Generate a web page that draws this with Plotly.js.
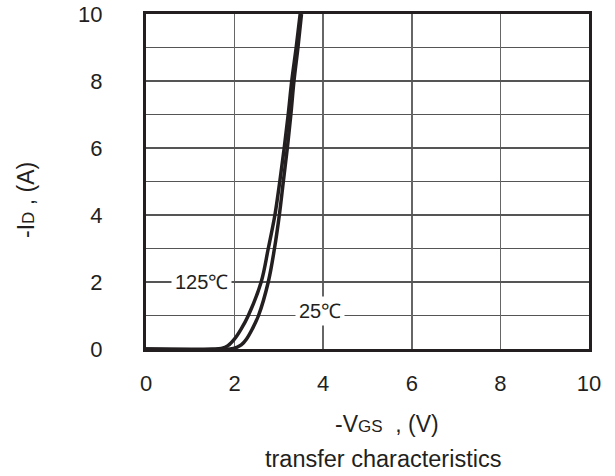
<!DOCTYPE html>
<html>
<head>
<meta charset="utf-8">
<script src="https://cdn.plot.ly/plotly-3.0.1.min.js"></script>
<style>html,body{margin:0;padding:0;background:#fff;}#chart{width:615px;height:476px;}</style>
</head>
<body>
<div id="chart"></div>
<script>
// -VGS (V) and -ID (A)
const vgs125 = [0, 1.5, 1.7, 1.85, 2.0, 2.15, 2.31, 2.6, 2.76, 2.91, 3.02, 3.12, 3.21, 3.29, 3.39, 3.48];
const id125  = [0, 0, 0.02, 0.1, 0.3, 0.6, 1, 2, 3, 4, 5, 6, 7, 8, 9, 10];
const vgs25  = [0, 1.9, 2.05, 2.15, 2.27, 2.4, 2.54, 2.76, 2.90, 3.01, 3.10, 3.19, 3.27, 3.34, 3.43, 3.51];
const id25   = [0, 0, 0.05, 0.12, 0.3, 0.6, 1, 2, 3, 4, 5, 6, 7, 8, 9, 10];
const xTicks = [0, 2, 4, 6, 8, 10];
const yTicks = [0, 2, 4, 6, 8, 10];
const labels = [
  {text: '125℃', x: 1.26, y: 2},
  {text: '25℃', x: 3.93, y: 1}
];

const ink = '#231f20';
const fam = '"Liberation Sans", Arial, sans-serif';
const tickFont = {family: fam, size: 22, color: ink};
const titleFont = {family: fam, size: 23, color: ink};
const labelFont = {family: fam, size: 20, color: ink};

const traces = [
  {x: vgs125, y: id125, mode: 'lines', line: {color: ink, width: 3.5, shape: 'spline', smoothing: 1}, hoverinfo: 'skip'},
  {x: vgs25, y: id25, mode: 'lines', line: {color: ink, width: 3.5, shape: 'spline', smoothing: 1}, hoverinfo: 'skip'}
];

const annotations = labels.map((l, i) => ({
  text: l.text, x: l.x, y: l.y, xref: 'x', yref: 'y', showarrow: false,
  bgcolor: '#ffffff', borderpad: 3, font: labelFont, yshift: i === 1 ? 5 : 0
}));
annotations.push({
  text: '-V<span style="font-size:17px">GS</span>  , (V)', xref: 'paper', yref: 'paper',
  x: (387 - 146) / 443, y: 0, yanchor: 'middle', yshift: -75, showarrow: false, font: titleFont
});
annotations.push({
  text: 'transfer characteristics', xref: 'paper', yref: 'paper',
  x: (383 - 146) / 443, y: 0, yanchor: 'middle', yshift: -110, showarrow: false,
  font: {family: fam, size: 23.5, color: ink}
});
annotations.push({
  text: '-I<span style="font-size:17px">D</span> , (A)', xref: 'paper', yref: 'paper',
  x: 0, xanchor: 'center', xshift: -120, y: (349 - 200) / 335, yanchor: 'middle',
  textangle: -90, showarrow: false, font: titleFont
});

const layout = {
  width: 615, height: 476,
  margin: {l: 146, r: 26, t: 14, b: 127, pad: 0},
  paper_bgcolor: '#ffffff', plot_bgcolor: '#ffffff',
  showlegend: false,
  font: tickFont,
  xaxis: {
    range: [0, 10], tickvals: xTicks, ticktext: xTicks.map(String),
    showgrid: true, gridcolor: '#666', gridwidth: 1.5,
    showline: true, linecolor: ink, linewidth: 3, mirror: true,
    zeroline: false, ticks: '', ticklabelstandoff: 13, tickfont: tickFont, fixedrange: true
  },
  yaxis: {
    range: [0, 10], tickvals: yTicks, ticktext: yTicks.map(String),
    showgrid: true, gridcolor: '#555', gridwidth: 1.3,
    minor: {dtick: 1, tick0: 0, showgrid: true, gridcolor: '#555', gridwidth: 1.3, ticks: ''},
    showline: true, linecolor: ink, linewidth: 3, mirror: true,
    zeroline: false, ticks: '', ticklabelstandoff: 36, tickfont: tickFont, fixedrange: true
  },
  annotations: annotations
};

Plotly.newPlot('chart', traces, layout, {displayModeBar: false, staticPlot: true});
</script>
</body>
</html>
